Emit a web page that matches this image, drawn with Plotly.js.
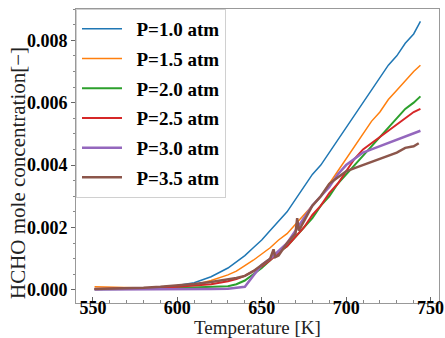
<!DOCTYPE html>
<html>
<head>
<meta charset="utf-8">
<script src="https://cdn.plot.ly/plotly-3.0.1.min.js"></script>
<style>html,body{margin:0;padding:0;background:#fff;}#chart{width:445px;height:338px;}</style>
</head>
<body>
<div id="chart"></div>
<script>
// Temperature grid [K]
const temperature = [551, 560, 570, 580, 590, 600, 610, 620, 630, 635, 640, 645, 650, 655, 660, 665, 670, 675, 680, 685, 690, 695, 700, 705, 710, 715, 720, 725, 730, 735, 740, 744];

// HCHO mole concentration for each pressure
const p10 = [0.00002, 0.00003, 0.00004, 0.00006, 0.00009, 0.00014, 0.00023, 0.00042, 0.0007, 0.0009, 0.0011, 0.00135, 0.0016, 0.0019, 0.0022, 0.0025, 0.0029, 0.0033, 0.0037, 0.0040, 0.0044, 0.0048, 0.0052, 0.0056, 0.0060, 0.0064, 0.0068, 0.0072, 0.0075, 0.0079, 0.0082, 0.0086];
const p15 = [0.00010, 0.00008, 0.00006, 0.00006, 0.00007, 0.00010, 0.00016, 0.00030, 0.00048, 0.0006, 0.00078, 0.00095, 0.00115, 0.00135, 0.0016, 0.0018, 0.0021, 0.0024, 0.0027, 0.0030, 0.0034, 0.0038, 0.0042, 0.0046, 0.0050, 0.0054, 0.0057, 0.0061, 0.0064, 0.0067, 0.0070, 0.0072];
const p20 = [0.00002, 0.00002, 0.00002, 0.00003, 0.00004, 0.00006, 0.00008, 0.0001, 0.00012, 0.00018, 0.0003, 0.0005, 0.0007, 0.00095, 0.0012, 0.0014, 0.0017, 0.0020, 0.0023, 0.0027, 0.0030, 0.0034, 0.0037, 0.0040, 0.0043, 0.0046, 0.0049, 0.0052, 0.0055, 0.0058, 0.0060, 0.0062];
const p25 = [0.00003, 0.00004, 0.00004, 0.00005, 0.00007, 0.00010, 0.00013, 0.00018, 0.00028, 0.00035, 0.00045, 0.0006, 0.00075, 0.00095, 0.0012, 0.0014, 0.0017, 0.0020, 0.0024, 0.0027, 0.0031, 0.0034, 0.0038, 0.0042, 0.0045, 0.0047, 0.0049, 0.0051, 0.0053, 0.0055, 0.0057, 0.0058];
const p30 = [0.00001, 0.00001, 0.00001, 0.00001, 0.00001, 0.00002, 0.00002, 0.00003, 0.00004, 0.00006, 0.0001, 0.00045, 0.0008, 0.0010, 0.00125, 0.0015, 0.0019, 0.0023, 0.0027, 0.0030, 0.0033, 0.0037, 0.0040, 0.0042, 0.0044, 0.0045, 0.0046, 0.0047, 0.0048, 0.0049, 0.0050, 0.0051];
const temperature35 = [551, 560, 570, 580, 590, 600, 610, 620, 630, 635, 640, 645, 650, 655, 657, 658, 660, 665, 670, 671, 672, 675, 680, 685, 690, 695, 700, 705, 710, 715, 720, 725, 730, 735, 740, 743];
const p35 = [0.00003, 0.00004, 0.00005, 0.00007, 0.0001, 0.00014, 0.00019, 0.00025, 0.00033, 0.00038, 0.00045, 0.0006, 0.0008, 0.0010, 0.0013, 0.00105, 0.0011, 0.0015, 0.0018, 0.0023, 0.0019, 0.0022, 0.0027, 0.0030, 0.0034, 0.0036, 0.0038, 0.0039, 0.0040, 0.0041, 0.0042, 0.0043, 0.0044, 0.00455, 0.0046, 0.0047];

const seriesNames = ['P=1.0 atm', 'P=1.5 atm', 'P=2.0 atm', 'P=2.5 atm', 'P=3.0 atm', 'P=3.5 atm'];
const seriesColors = ['#1f77b4', '#ff7f0e', '#2ca02c', '#d62728', '#9467bd', '#8c564b'];
const seriesX = [temperature, temperature, temperature, temperature, temperature, temperature35];
const seriesY = [p10, p15, p20, p25, p30, p35];
const seriesWidth = [1.5, 1.5, 2, 2, 2.5, 2.5];

const xTickVals = [550, 600, 650, 700, 750];
const yTickVals = [0, 0.002, 0.004, 0.006, 0.008];
const yTickText = ['0.000', '0.002', '0.004', '0.006', '0.008'];

const serif = '"Liberation Serif", "Times New Roman", "DejaVu Serif", serif';

const traces = seriesNames.map((name, i) => ({
  x: seriesX[i],
  y: seriesY[i],
  type: 'scatter',
  mode: 'lines',
  name: '\u2002' + name,
  legendgroup: 'g' + i,
  line: {color: seriesColors[i], width: seriesWidth[i]}
}));

const layout = {
  width: 445,
  height: 338,
  margin: {l: 76, r: 6, t: 9, b: 35, pad: 0},
  paper_bgcolor: '#fff',
  plot_bgcolor: '#fff',
  showlegend: true,
  legend: {
    x: 0, y: 1, xanchor: 'left', yanchor: 'top',
    bgcolor: 'rgba(255,255,255,0.9)',
    bordercolor: '#d0d0d0', borderwidth: 1,
    font: {family: serif, size: 19, color: '#000', weight: 'bold'},
    tracegroupgap: 2,
    itemwidth: 40
  },
  xaxis: {
    range: [540, 755],
    tickvals: xTickVals,
    ticks: 'inside', ticklen: 6, tickcolor: '#666',
    ticklabelstandoff: -12,
    minor: {dtick: 10, ticks: 'inside', ticklen: 3, tickcolor: '#888'},
    showgrid: false, zeroline: false,
    showline: true, mirror: true, linecolor: '#999', linewidth: 1,
    tickfont: {family: serif, size: 18, color: '#000', weight: 'bold'},
    title: {text: 'Temperature [K]', font: {family: serif, size: 19, color: '#222'}, standoff: 3},
    automargin: false
  },
  yaxis: {
    range: [-0.00042, 0.009],
    tickvals: yTickVals,
    ticktext: yTickText,
    ticks: 'outside', ticklen: 4, tickcolor: '#666',
    minor: {dtick: 0.0005, ticks: 'outside', ticklen: 2, tickcolor: '#888'},
    showgrid: false, zeroline: false,
    showline: true, mirror: true, linecolor: '#999', linewidth: 1,
    tickfont: {family: serif, size: 18, color: '#000', weight: 'bold'},
    automargin: false
  },
  annotations: [{
    text: 'HCHO mole concentration[−]',
    xref: 'paper', yref: 'paper',
    x: -58 / 363, y: 130 / 294,
    xanchor: 'center', yanchor: 'middle',
    textangle: -90, showarrow: false,
    font: {family: serif, size: 21, color: '#222'}
  }]
};

Plotly.newPlot('chart', traces, layout, {displayModeBar: false, staticPlot: true});
</script>
</body>
</html>
